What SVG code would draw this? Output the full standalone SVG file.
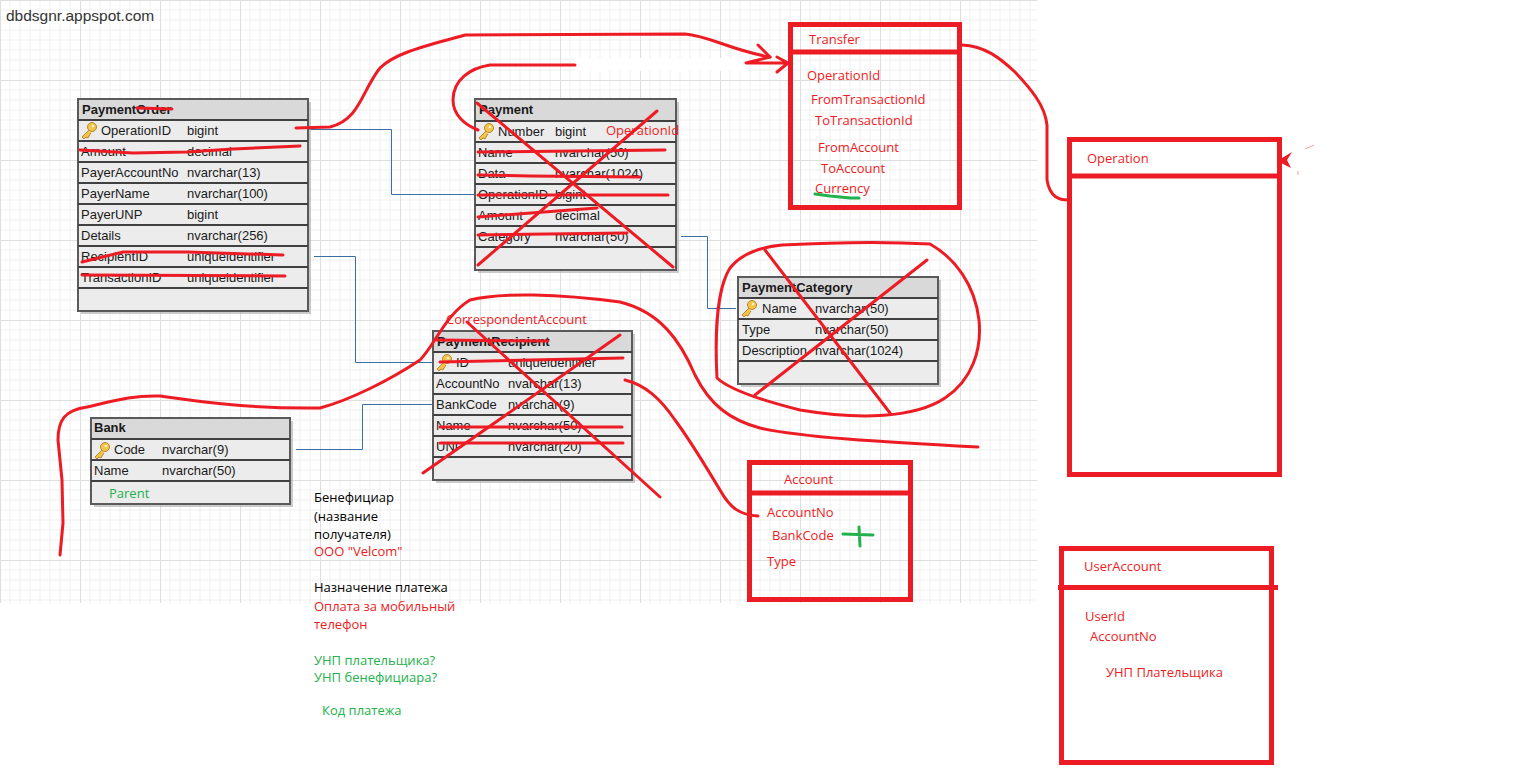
<svg xmlns="http://www.w3.org/2000/svg" width="1522" height="769" viewBox="0 0 1522 769">
<defs>
<pattern id="grid" x="0" y="0" width="80" height="80" patternUnits="userSpaceOnUse">
<path d="M10,0V80M20,0V80M30,0V80M40,0V80M50,0V80M60,0V80M70,0V80M0,10H80M0,20H80M0,30H80M0,40H80M0,50H80M0,60H80M0,70H80" stroke="#efefef" stroke-width="1" fill="none"/>
<path d="M0.5,0V80M0,0.5H80" stroke="#dedede" stroke-width="1" fill="none"/>
</pattern>
<g id="key">
<circle cx="11" cy="5" r="4.5" fill="#f3c44a" stroke="#b8872a" stroke-width="1"/>
<circle cx="12" cy="4" r="1.3" fill="#fff5d0"/>
<path d="M8,8 L1,15 L3,17 L5,15 L7,16 L8,14 L10,11" fill="#f3c44a" stroke="#b8872a" stroke-width="1" stroke-linejoin="round"/>
</g>
</defs>
<style>
.bg{fill:#ffffff}
.tbl{fill:#ececec;stroke:#5a5a5a;stroke-width:2}
.shadow{fill:#a8a8a8;opacity:0.6}
.hdr{fill:#d9d9d9}
.sep{stroke:#404040;stroke-width:2}
.t{font-family:"Liberation Sans",Arial,sans-serif;font-size:13px;fill:#1a1a1a}
.th{font-family:"Liberation Sans",Arial,sans-serif;font-size:13px;font-weight:bold;fill:#1a1a1a}
.rt{font-family:"Open Sans","Noto Sans",sans-serif;font-size:13px;fill:#ed1c24}
.gt{font-family:"Open Sans","Noto Sans",sans-serif;font-size:13px;fill:#22b14c}
.bt{font-family:"Open Sans","Noto Sans",sans-serif;font-size:13px;fill:#000}
.box{fill:none;stroke:#ed1c24;stroke-width:5}
.pen{fill:none;stroke:#ed1c24;stroke-width:3;stroke-linecap:round;stroke-linejoin:round}
.gpen{fill:none;stroke:#22b14c;stroke-width:3;stroke-linecap:round;stroke-linejoin:round}
.conn{fill:none;stroke:#3a6ea5;stroke-width:1}
</style>
<rect class="bg" x="0" y="0" width="1522" height="769"/>
<rect x="0" y="0" width="1037" height="603" fill="url(#grid)"/>
<text x="6" y="21" font-family="Liberation Sans,Arial,sans-serif" font-size="15.5" fill="#333">dbdsgnr.appspot.com</text>

<g id="connectors">
<path class="conn" d="M308,129.5H391.5V194.5H475"/>
<path class="conn" d="M314,256.5H355.5V362.5H433"/>
<path class="conn" d="M681,236.5H707.5V308.5H736"/>
<path class="conn" d="M296,449.5H362.5V404.5H433"/>
</g>

<g id="PaymentOrder">
<rect class="shadow" x="81" y="102" width="230" height="212"/>
<rect class="tbl" x="78" y="99" width="230" height="212"/>
<rect class="hdr" x="79" y="100" width="228" height="19"/>
<path class="sep" d="M78,120H308M78,141H308M78,162H308M78,183H308M78,204H308M78,225H308M78,246H308M78,267H308M78,288H308"/>
<text class="th" x="82" y="114">PaymentOrder</text>
<use href="#key" x="81" y="122"/>
<text class="t" x="101" y="135">OperationID</text><text class="t" x="187" y="135">bigint</text>
<text class="t" x="81" y="156">Amount</text><text class="t" x="187" y="156">decimal</text>
<text class="t" x="81" y="177">PayerAccountNo</text><text class="t" x="187" y="177">nvarchar(13)</text>
<text class="t" x="81" y="198">PayerName</text><text class="t" x="187" y="198">nvarchar(100)</text>
<text class="t" x="81" y="219">PayerUNP</text><text class="t" x="187" y="219">bigint</text>
<text class="t" x="81" y="240">Details</text><text class="t" x="187" y="240">nvarchar(256)</text>
<text class="t" x="81" y="261">RecipientID</text><text class="t" x="187" y="261">uniqueidentifier</text>
<text class="t" x="81" y="282">TransactionID</text><text class="t" x="187" y="282">uniqueidentifier</text>
</g>

<g id="Payment">
<rect class="shadow" x="478" y="102" width="201" height="171"/>
<rect class="tbl" x="475" y="99" width="201" height="171"/>
<rect class="hdr" x="476" y="100" width="199" height="20"/>
<path class="sep" d="M475,121H676M475,142H676M475,163H676M475,184H676M475,205H676M475,226H676M475,247H676"/>
<text class="th" x="479" y="114">Payment</text>
<use href="#key" x="478" y="123"/>
<text class="t" x="498" y="136">Number</text><text class="t" x="555" y="136">bigint</text>
<text class="t" x="478" y="157">Name</text><text class="t" x="555" y="157">nvarchar(50)</text>
<text class="t" x="478" y="178">Data</text><text class="t" x="555" y="178">nvarchar(1024)</text>
<text class="t" x="478" y="199">OperationID</text><text class="t" x="555" y="199">bigint</text>
<text class="t" x="478" y="220">Amount</text><text class="t" x="555" y="220">decimal</text>
<text class="t" x="478" y="241">Category</text><text class="t" x="555" y="241">nvarchar(50)</text>
<text class="rt" x="606" y="135">OperationId</text>
</g>

<g id="PaymentCategory">
<rect class="shadow" x="741" y="280" width="200" height="107"/>
<rect class="tbl" x="738" y="277" width="200" height="107"/>
<rect class="hdr" x="739" y="278" width="198" height="20"/>
<path class="sep" d="M738,298H938M738,319H938M738,340H938M738,361H938"/>
<text class="th" x="742" y="292">PaymentCategory</text>
<use href="#key" x="741" y="300"/>
<text class="t" x="762" y="313">Name</text><text class="t" x="815" y="313">nvarchar(50)</text>
<text class="t" x="742" y="334">Type</text><text class="t" x="815" y="334">nvarchar(50)</text>
<text class="t" x="742" y="355">Description</text><text class="t" x="815" y="355">nvarchar(1024)</text>
</g>

<g id="PaymentRecipient">
<rect class="shadow" x="436" y="334" width="199" height="149"/>
<rect class="tbl" x="433" y="331" width="199" height="149"/>
<rect class="hdr" x="434" y="332" width="197" height="20"/>
<path class="sep" d="M433,352H632M433,373H632M433,394H632M433,415H632M433,436H632M433,457H632"/>
<text class="th" x="437" y="346">PaymentRecipient</text>
<use href="#key" x="436" y="354"/>
<text class="t" x="456" y="367">ID</text><text class="t" x="508" y="367">uniqueidentifier</text>
<text class="t" x="436" y="388">AccountNo</text><text class="t" x="508" y="388">nvarchar(13)</text>
<text class="t" x="436" y="409">BankCode</text><text class="t" x="508" y="409">nvarchar(9)</text>
<text class="t" x="436" y="430">Name</text><text class="t" x="508" y="430">nvarchar(50)</text>
<text class="t" x="436" y="451">UNP</text><text class="t" x="508" y="451">nvarchar(20)</text>
<text class="rt" x="446" y="324">CorrespondentAccount</text>
</g>

<g id="Bank">
<rect class="shadow" x="94" y="421" width="199" height="86"/>
<rect class="tbl" x="91" y="418" width="199" height="86"/>
<rect class="hdr" x="92" y="419" width="197" height="20"/>
<path class="sep" d="M91,439H290M91,460H290M91,481H290"/>
<text class="th" x="94" y="432">Bank</text>
<use href="#key" x="94" y="442"/>
<text class="t" x="114" y="454">Code</text><text class="t" x="162" y="454">nvarchar(9)</text>
<text class="t" x="94" y="475">Name</text><text class="t" x="162" y="475">nvarchar(50)</text>
<text class="gt" x="109" y="498">Parent</text>
</g>

<g id="Transfer">
<rect class="box" x="790.5" y="24.5" width="169" height="183"/>
<path class="box" d="M790,52H962"/>
<text class="rt" x="809" y="44">Transfer</text>
<text class="rt" x="807" y="80">OperationId</text>
<text class="rt" x="811" y="104">FromTransactionId</text>
<text class="rt" x="815" y="125">ToTransactionId</text>
<text class="rt" x="818" y="152">FromAccount</text>
<text class="rt" x="821" y="173">ToAccount</text>
<text class="rt" x="815" y="193">Currency</text>
<path class="gpen" d="M815,194 L830,196 L850,198 L859,198"/>
</g>

<g id="Operation">
<rect class="box" x="1069.5" y="139.5" width="210" height="335"/>
<path class="box" d="M1069,176H1280"/>
<text class="rt" x="1087" y="163">Operation</text>
</g>

<g id="Account">
<rect class="box" x="749.5" y="462.5" width="161" height="137"/>
<path class="box" d="M749,493H911"/>
<text class="rt" x="784" y="484">Account</text>
<text class="rt" x="767" y="517">AccountNo</text>
<text class="rt" x="772" y="540">BankCode</text>
<text class="rt" x="767" y="566">Type</text>
<path class="gpen" d="M843,534 L873,535 M859,527 L860,546"/>
</g>

<g id="UserAccount">
<rect class="box" x="1061.5" y="548.5" width="210" height="214"/>
<path class="box" d="M1058,587.5H1278"/>
<text class="rt" x="1084" y="571">UserAccount</text>
<text class="rt" x="1085" y="621">UserId</text>
<text class="rt" x="1090" y="641">AccountNo</text>
<text class="rt" x="1106" y="677">УНП Плательщика</text>
</g>

<g id="notes">
<text class="bt" x="314" y="502">Бенефициар</text>
<text class="bt" x="314" y="521">(название</text>
<text class="bt" x="314" y="539">получателя)</text>
<text class="rt" x="314" y="556">ООО "Velcom"</text>
<text class="bt" x="314" y="592">Назначение платежа</text>
<text class="rt" x="314" y="611">Оплата за мобильный</text>
<text class="rt" x="314" y="629">телефон</text>
<text class="gt" x="314" y="665">УНП плательщика?</text>
<text class="gt" x="314" y="682">УНП бенефициара?</text>
<text class="gt" x="322" y="715">Код платежа</text>
</g>

<g id="annotations">
<rect x="575" y="58" width="172" height="13" fill="#ffffff"/>
<path class="pen" d="M296,128 L330,127 C360,120 362,90 380,68 C396,52 430,45 465,35 L685,34 C710,36 730,50 770,57"/>
<path class="pen" d="M758,45 L770,57 L746,63 M747,63 L790,63 M777,57 L788,63 L777,72"/>
<path class="pen" d="M478,130 C465,125 453,115 453,100 C453,80 470,68 490,65 L575,65"/>
<path class="pen" d="M962,45 C985,46 1000,58 1015,72 C1030,88 1045,105 1047,125 L1047,180 C1050,198 1060,200 1068,200"/>
<polygon points="1277,161 1292,152 1287,160 1291,168" fill="#ed1c24"/>
<path d="M1305,149 L1314,145 M1298,171 L1298,175" stroke="#f7a0a4" stroke-width="1" fill="none"/>
<path class="pen" d="M137,108 L172,109"/>
<path class="pen" d="M80,150 L133,153 L187,152 L233,149 L300,146"/>
<path class="pen" d="M82,262 L123,252 L187,252 L283,255"/>
<path class="pen" d="M82,275 L285,276"/>
<path class="pen" d="M477,103 L673,267 M657,111 L478,265"/>
<path class="pen" d="M478,152 L665,150 M478,175 L530,176 L640,177 M478,195 L668,195 M478,217 L597,208 M478,235 L627,233"/>
<path class="pen" d="M782,245 C820,243 880,241 930,244 C955,258 975,285 979,320 C982,350 972,380 945,398 C915,418 860,420 800,410 C760,400 730,390 717,378 C715,340 716,290 730,268 C742,253 760,247 782,245"/>
<path class="pen" d="M765,250 L890,413 M927,260 L755,395"/>
<path class="pen" d="M60,555 L63,523 L62,480 L58,440 C58,420 65,410 87,407 C110,402 130,395 160,396 C190,400 240,409 320,408 C350,400 390,380 420,360 C435,345 445,315 470,300 C500,292 560,294 620,302 C660,312 680,340 695,375 C710,405 730,420 760,428 C800,437 880,442 978,447"/>
<path class="pen" d="M437,340 L548,341 M440,362 L623,358 M440,427 L622,427 M440,443 L623,443"/>
<path class="pen" d="M467,322 L660,497 M620,335 L423,473"/>
<path class="pen" d="M625,380 C645,385 660,398 675,420 C690,440 705,465 720,490 C730,508 740,515 758,516"/>
</g>
</svg>
